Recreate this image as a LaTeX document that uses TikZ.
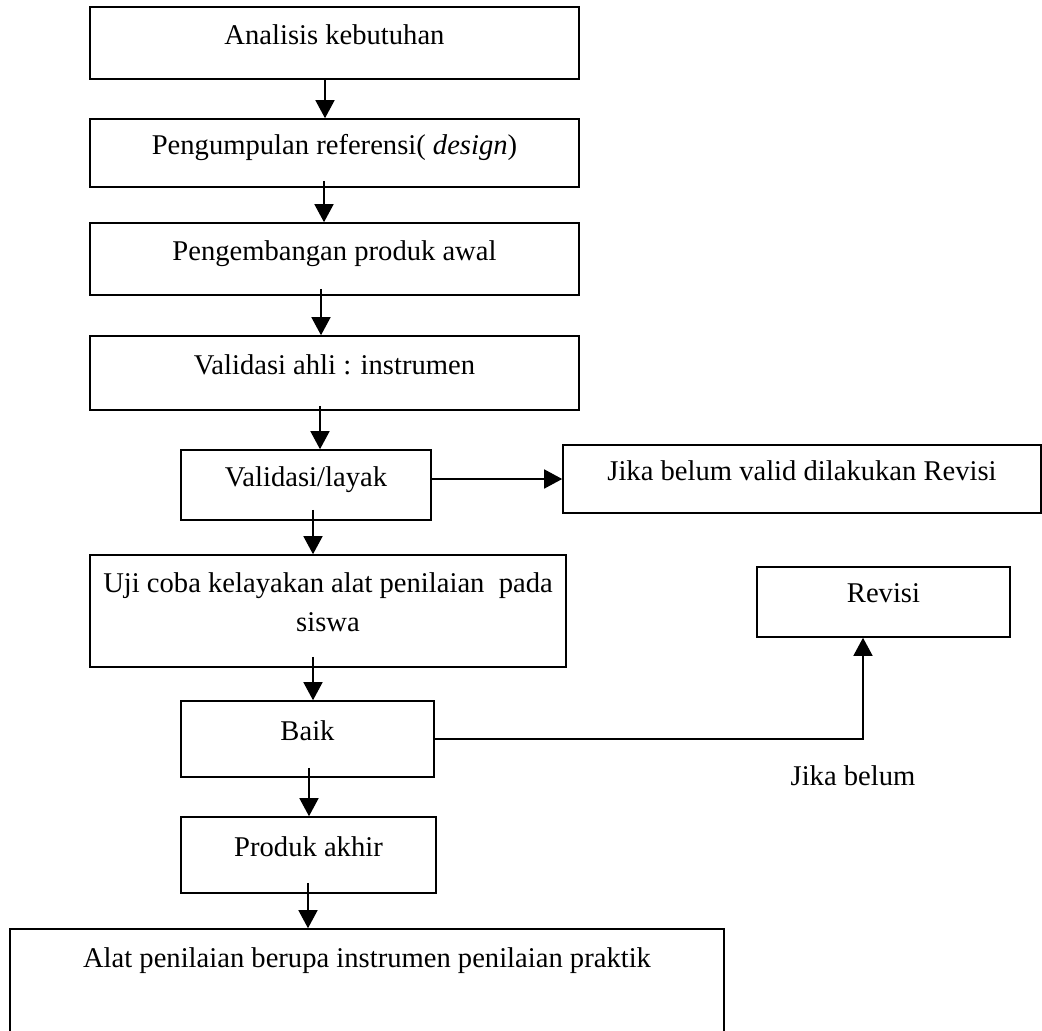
\documentclass[tikz,border=0pt]{standalone}
\usepackage{fontspec}
\setmainfont{Liberation Serif}
\usetikzlibrary{arrows.meta}

\begin{document}
\begin{tikzpicture}[x=1pt, y=-1pt,
    box/.style={shape=rectangle, draw=black, line width=1.6pt, font=\fontsize{28.6}{39}\selectfont, text depth=17pt},
    arr/.style={-{Triangle[length=18pt, width=19pt]}, line width=1.5pt},
    ]
    
    \useasboundingbox (0, 0) rectangle (1042, 1031);
    
    \node[box, minimum width=489pt, minimum height=72pt] (anls) at (334.5, 43)   {Analisis kebutuhan};
    \node[box, minimum width=489pt, minimum height=68pt] (ref)  at (334.5, 153)  {Pengumpulan referensi( \textit{design})};
    \node[box, minimum width=489pt, minimum height=72pt] (awal) at (334.5, 259)  {Pengembangan produk awal};
    \node[box, minimum width=489pt, minimum height=74pt] (ahli) at (334.5, 373)  {Validasi ahli : instrumen};
    \node[box, minimum width=250pt, minimum height=70pt] (layak) at (306, 485)   {Validasi/layak};
    \node[box, minimum width=478pt, minimum height=68pt] (jikavalid) at (802, 479) {Jika belum valid dilakukan Revisi};
    \node[box, minimum width=476pt, minimum height=112pt, align=center] (uji) at (328, 611) {Uji coba kelayakan alat penilaian\ \ pada\\ siswa};
    \node[box, minimum width=253pt, minimum height=70pt] (revisi) at (883.5, 602) {Revisi};
    \node[box, minimum width=253pt, minimum height=76pt] (baik) at (307.5, 739)  {Baik};
    \node[box, minimum width=255pt, minimum height=76pt] (produk) at (308.5, 855) {Produk akhir};
    \node[box, minimum width=714pt, minimum height=141pt, text depth=84pt] (alat) at (367, 999.5) {Alat penilaian berupa instrumen penilaian praktik};
    \node[font=\fontsize{28.6}{39}\selectfont] (jikabelum) at (853, 776) {Jika belum};
    
    \path[arr] ([xshift=-9.5pt]anls.south) edge ([xshift=-9.5pt]ref.north);
    \path[arr] ([xshift=-10.5pt, yshift=7pt]ref.south) edge ([xshift=-10.5pt]awal.north);
    \path[arr] ([xshift=-13.5pt, yshift=7pt]awal.south) edge ([xshift=-13.5pt]ahli.north);
    \path[arr] ([xshift=-14.5pt, yshift=5pt]ahli.south) edge ([xshift=14pt]layak.north);
    \path[arr] ([xshift=7pt, yshift=11pt]layak.south) edge ([xshift=-15pt]uji.north);
    \path[arr] ([xshift=-15pt, yshift=11pt]uji.south) edge ([xshift=5.5pt]baik.north);
    \path[arr] ([xshift=1.5pt, yshift=10pt]baik.south) edge ([xshift=0.5pt]produk.north);
    \path[arr] ([xshift=-0.5pt, yshift=11pt]produk.south) edge ([xshift=-59pt]alat.north);
    \path[arr] (layak.east |- jikavalid.west) edge (jikavalid.west);
    \draw[arr] (baik.east) -| ([xshift=-20.5pt]revisi.south);
    
\end{tikzpicture}
\end{document}
